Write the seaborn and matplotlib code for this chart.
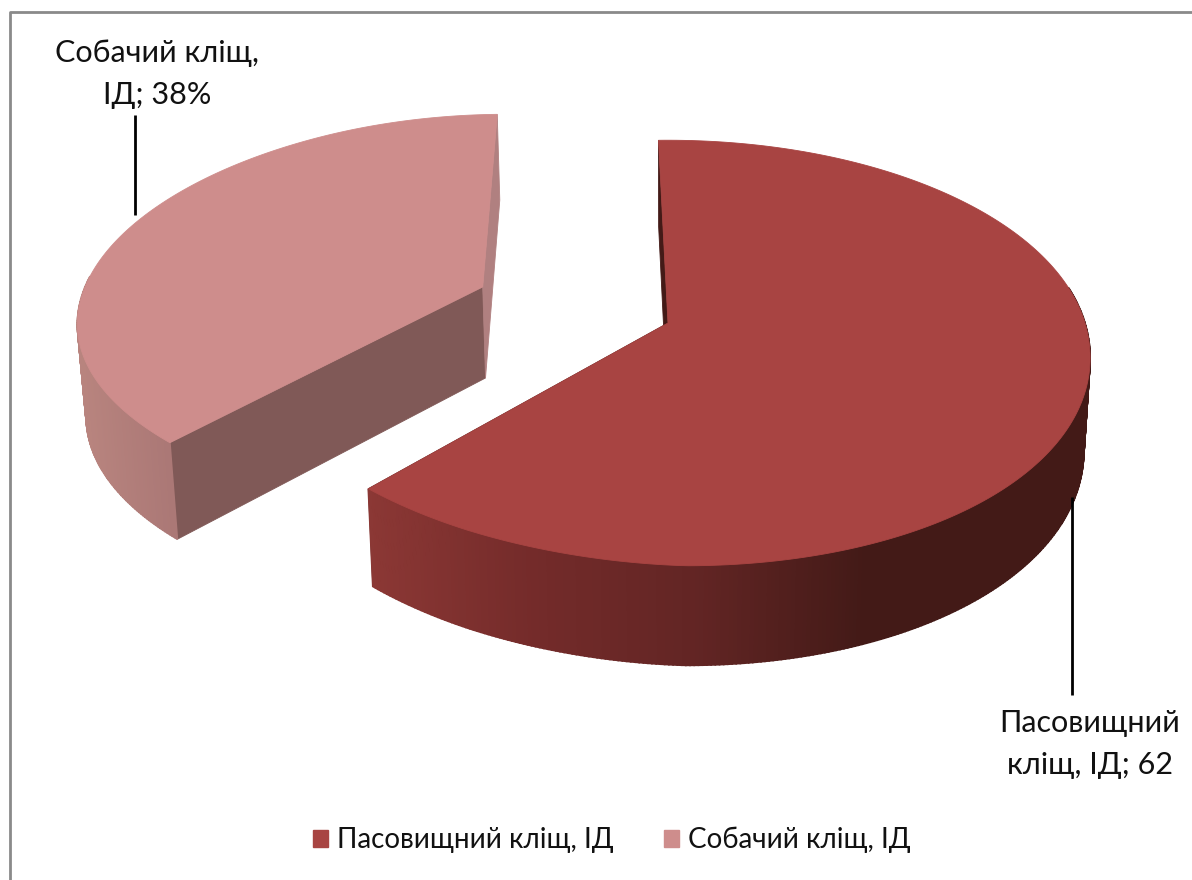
import numpy as np
import matplotlib
matplotlib.use("Agg")
import matplotlib.pyplot as plt
from matplotlib.patches import Polygon, Patch
import seaborn as sns

# ---- data ----
categories = ["Пасовищний кліщ, ІД", "Собачий кліщ, ІД"]
values = [62, 38]
explode = [0.0, 0.485]
data_labels = ["Пасовищний\nкліщ, ІД; 62", "Собачий кліщ,\nІД; 38%"]

# ---- style ----
top_colors = ["#A84442", "#CE8D8C"]
wall_ramps = [["#8C3835", "#742B2A", "#622524", "#431A17"], ["#B9857F", "#AB7876"]]
wall_spans = [(368, 860), (85, 175)]
face_colors = ["#431A17", "#805957"]
sliver_colors = ["#431A17", "#B08080"]

sns.set_theme(style="white")
plt.rcParams["font.family"] = ["Lato", "Noto Sans", "DejaVu Sans"]

fig, ax = plt.subplots(figsize=(11.92, 8.8), dpi=100)
ax.set_position([0, 0, 1, 1])
ax.set_xlim(0, 1192)
ax.set_ylim(880, 0)
ax.axis("off")

# perspective projection of a flat disc
X0, Y0, A, B, K, DEPTH = 668, 323, 417, 210, 0.149, 92
START = -1.5


def project(theta, r, cu, cv, lower=False):
    t = np.radians(theta)
    u = cu + r * np.sin(t)
    v = cv - r * np.cos(t)
    w = 1 - K * v
    sx = 0.985 if lower else 1.0
    sy = 0.965 if lower else 1.0
    off = DEPTH / w if lower else 0.0
    left = np.clip(-u, 0, None)
    near = np.clip(v, 0, None)
    x = X0 + sx * (A * u / w + 11 * np.clip(left - 0.45, 0, None) + 18 * near ** 2)
    y = Y0 + sy * (B * v / w - 5.5 * left * np.clip(v + 1, 0, None) ** 1.5 - 4 * near ** 2) + off
    return x, y


def poly(xs, ys, color, z, lw=0.6):
    ax.add_patch(Polygon(np.column_stack([xs, ys]), closed=True, facecolor=color,
                         edgecolor=color, linewidth=lw, zorder=z))


shares = np.array(values) / sum(values) * 360
ends = START + np.cumsum(shares)
starts = ends - shares

for i in [1, 0]:
    a, b = starts[i], ends[i]
    mid = np.radians((a + b) / 2)
    cu, cv = explode[i] * np.sin(mid), -explode[i] * np.cos(mid)
    z = 2 + (1 - i) * 10

    # radial faces
    for th, col in ((a, face_colors[i]), (b, sliver_colors[i])):
        xt, yt = project(th, 1, cu, cv)
        xb, yb = project(th, 1, cu, cv, True)
        xat, yat = project(th, 0, cu, cv)
        xab, yab = project(th, 0, cu, cv, True)
        if i == 0:
            col = face_colors[0]
        poly([xat, xt, xb, xab], [yat, yt, yb, yab], col, z)

    # curved wall, only the part that faces the viewer
    lo, hi = (max(a, 80), min(b, 272))
    n = int(hi - lo) * 2
    ramp = sns.blend_palette(wall_ramps[i], 256)
    edges = np.linspace(lo, hi, n + 1)
    x0, x1 = wall_spans[i]
    order = range(n) if i == 0 else range(n - 1, -1, -1)
    for j in order:
        seg = np.linspace(edges[j], edges[j + 1], 3)
        xt, yt = project(seg, 1, cu, cv)
        xb, yb = project(seg, 1, cu, cv, True)
        frac = np.clip((xb.mean() - x0) / (x1 - x0), 0, 1)
        poly(np.r_[xt, xb[::-1]], np.r_[yt, yb[::-1]], ramp[int(frac * 255)], z + 1, lw=1.2)

    # top surface
    seg = np.linspace(a, b, 240)
    xt, yt = project(seg, 1, cu, cv)
    xa, ya = project(a, 0, cu, cv)
    poly(np.r_[xa, xt], np.r_[ya, yt], top_colors[i], z + 2)

# leader lines
ax.plot([1072, 1072], [497, 695], color="black", lw=2, zorder=30, solid_capstyle="butt")
ax.plot([135, 135], [115, 215], color="black", lw=2, zorder=30, solid_capstyle="butt")

# data labels
ax.text(1090, 744, data_labels[0], ha="center", va="center", fontsize=22,
        linespacing=1.62, color="#111111", zorder=31)
ax.text(157, 74, data_labels[1], ha="center", va="center", fontsize=22,
        linespacing=1.62, color="#111111", zorder=31)

# frame
ax.plot([9.5, 9.5, 1200], [890, 12.5, 12.5], color="#8A8A8A", lw=2, zorder=1)

# legend
handles = [Patch(facecolor=c, edgecolor=c, label=l) for c, l in zip(top_colors, categories)]
ax.legend(handles=handles, ncol=2, loc="center", bbox_to_anchor=(612 / 1192, 1 - 840 / 880),
          frameon=False, fontsize=20, handlelength=0.55, handleheight=0.55, handletextpad=0.33,
          columnspacing=1.8, labelcolor="#111111")

fig.savefig("out.png", dpi=100)
